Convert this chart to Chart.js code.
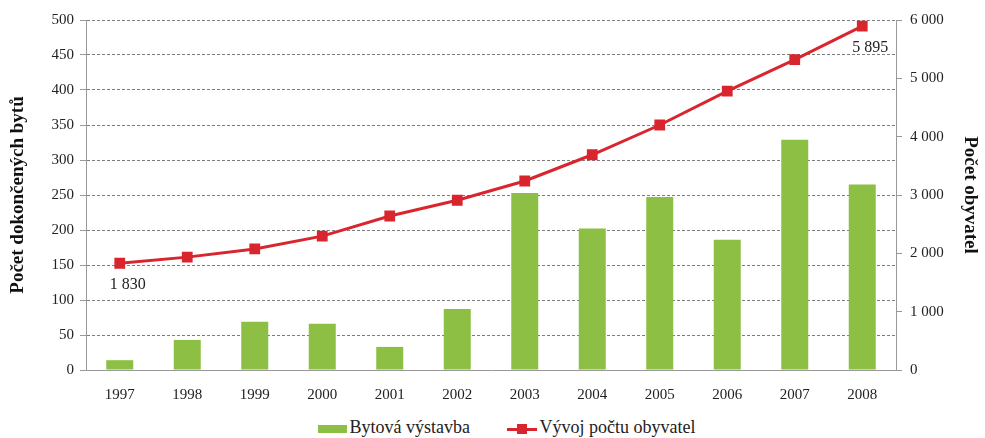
<!DOCTYPE html>
<html>
<head>
<meta charset="utf-8">
<script src="https://cdn.jsdelivr.net/npm/chart.js@4/dist/chart.umd.min.js"></script>
<style>
  html, body { margin: 0; padding: 0; background: #fff; }
  #wrap { position: relative; width: 985px; height: 438px; }
  #chart { position: absolute; left: 0; top: 0; }
  #legend {
    position: absolute; left: 0; top: 416px; width: 985px; padding-left: 28px; box-sizing: border-box;
    text-align: center; font-family: 'Liberation Serif', serif; font-size: 18px; color: #222;
  }
  .lg { display: inline-block; margin: 0 16px; vertical-align: middle; }
  .lg i { display: inline-block; vertical-align: middle; margin-right: 3px; position: relative; }
  .bar-sw { width: 29px; height: 8px; background: #8cbf44; }
  .line-sw { width: 30px; height: 3px; background: #d9252e; }
  .line-sw::after { content: ''; position: absolute; left: 10px; top: -4px; width: 10px; height: 10px; background: #d9252e; }
</style>
</head>
<body>
<div id="wrap">
  <canvas id="chart" width="985" height="410"></canvas>
  <div id="legend">
    <span class="lg"><i class="bar-sw"></i>Bytová výstavba</span>
    <span class="lg"><i class="line-sw"></i>Vývoj počtu obyvatel</span>
  </div>
</div>
<script>
/* ─── data ─── */
const years     = ['1997','1998','1999','2000','2001','2002','2003','2004','2005','2006','2007','2008'];
const dwellings = [14, 43, 69, 66, 33, 87, 253, 202, 247, 186, 329, 265];
const residents = [1830, 1935, 2075, 2295, 2640, 2910, 3240, 3690, 4200, 4780, 5320, 5895];
const labelIdx  = [0, 11];   // body s popiskem hodnoty

const fmtNum = v => String(v).replace(/\B(?=(\d{3})+(?!\d))/g, ' ');

const serif = 'Liberation Serif';

/* popisky hodnot pod body */
const valueLabels = {
  id: 'valueLabels',
  afterDatasetsDraw(chart) {
    const meta = chart.getDatasetMeta(1);
    const ctx  = chart.ctx;
    ctx.save();
    ctx.font = `16px "${serif}"`;
    ctx.fillStyle = '#222';
    ctx.textAlign = 'center';
    ctx.textBaseline = 'middle';
    labelIdx.forEach(i => {
      const p = meta.data[i];
      ctx.fillText(fmtNum(residents[i]), p.x + 8, p.y + 22);
    });
    ctx.restore();
  }
};

new Chart(document.getElementById('chart'), {
  data: {
    labels: years,
    datasets: [
      {
        type           : 'bar',
        label          : 'Bytová výstavba',
        data           : dwellings,
        backgroundColor: '#8cbf44',
        yAxisID        : 'y',
        barPercentage  : 0.4,
        categoryPercentage: 1,
        order          : 2,
      },
      {
        type           : 'line',
        label          : 'Vývoj počtu obyvatel',
        data           : residents,
        borderColor    : '#d9252e',
        backgroundColor: '#d9252e',
        borderWidth    : 3,
        pointStyle     : 'rect',
        pointRadius    : 5.5,
        tension        : 0,
        yAxisID        : 'y1',
        order          : 1,
      },
    ],
  },
  options: {
    responsive: false,
    animation : false,
    layout: { padding: { top: 20, left: 0, right: 0, bottom: 0 } },
    plugins: {
      legend : { display: false },
      tooltip: { enabled: false },
    },
    scales: {
      x: {
        offset: true,
        grid  : { display: false },
        border: { color: '#999', width: 1 },
        ticks : { color: '#222', font: { family: serif, size: 15 }, padding: 8 },
        afterFit: s => { s.height = 40; },
      },
      y: {
        position: 'left',
        min: 0, max: 500,
        ticks : { stepSize: 50, color: '#222', font: { family: serif, size: 15 }, padding: 6 },
        grid  : { color: '#7d7d7d', tickLength: 6, tickColor: '#999' },
        border: { color: '#999', width: 1, dash: [3, 2] },
        title : { display: true, text: 'Počet dokončených bytů', color: '#111',
                  font: { family: serif, size: 19, weight: 'bold' }, padding: { top: 7, bottom: 0 } },
        afterFit: s => { s.width = 86; },
      },
      y1: {
        position: 'right',
        min: 0, max: 6000,
        ticks : { stepSize: 1000, color: '#222', font: { family: serif, size: 15 }, padding: 8,
                  callback: v => fmtNum(v) },
        grid  : { drawOnChartArea: false, tickLength: 6, color: '#999' },
        border: { color: '#999', width: 1 },
        title : { display: true, text: 'Počet obyvatel', color: '#111',
                  font: { family: serif, size: 19, weight: 'bold' }, padding: { top: 4, bottom: 0 } },
        afterFit: s => { s.width = 89; },
      },
    },
  },
  plugins: [valueLabels],
});
</script>
</body>
</html>
